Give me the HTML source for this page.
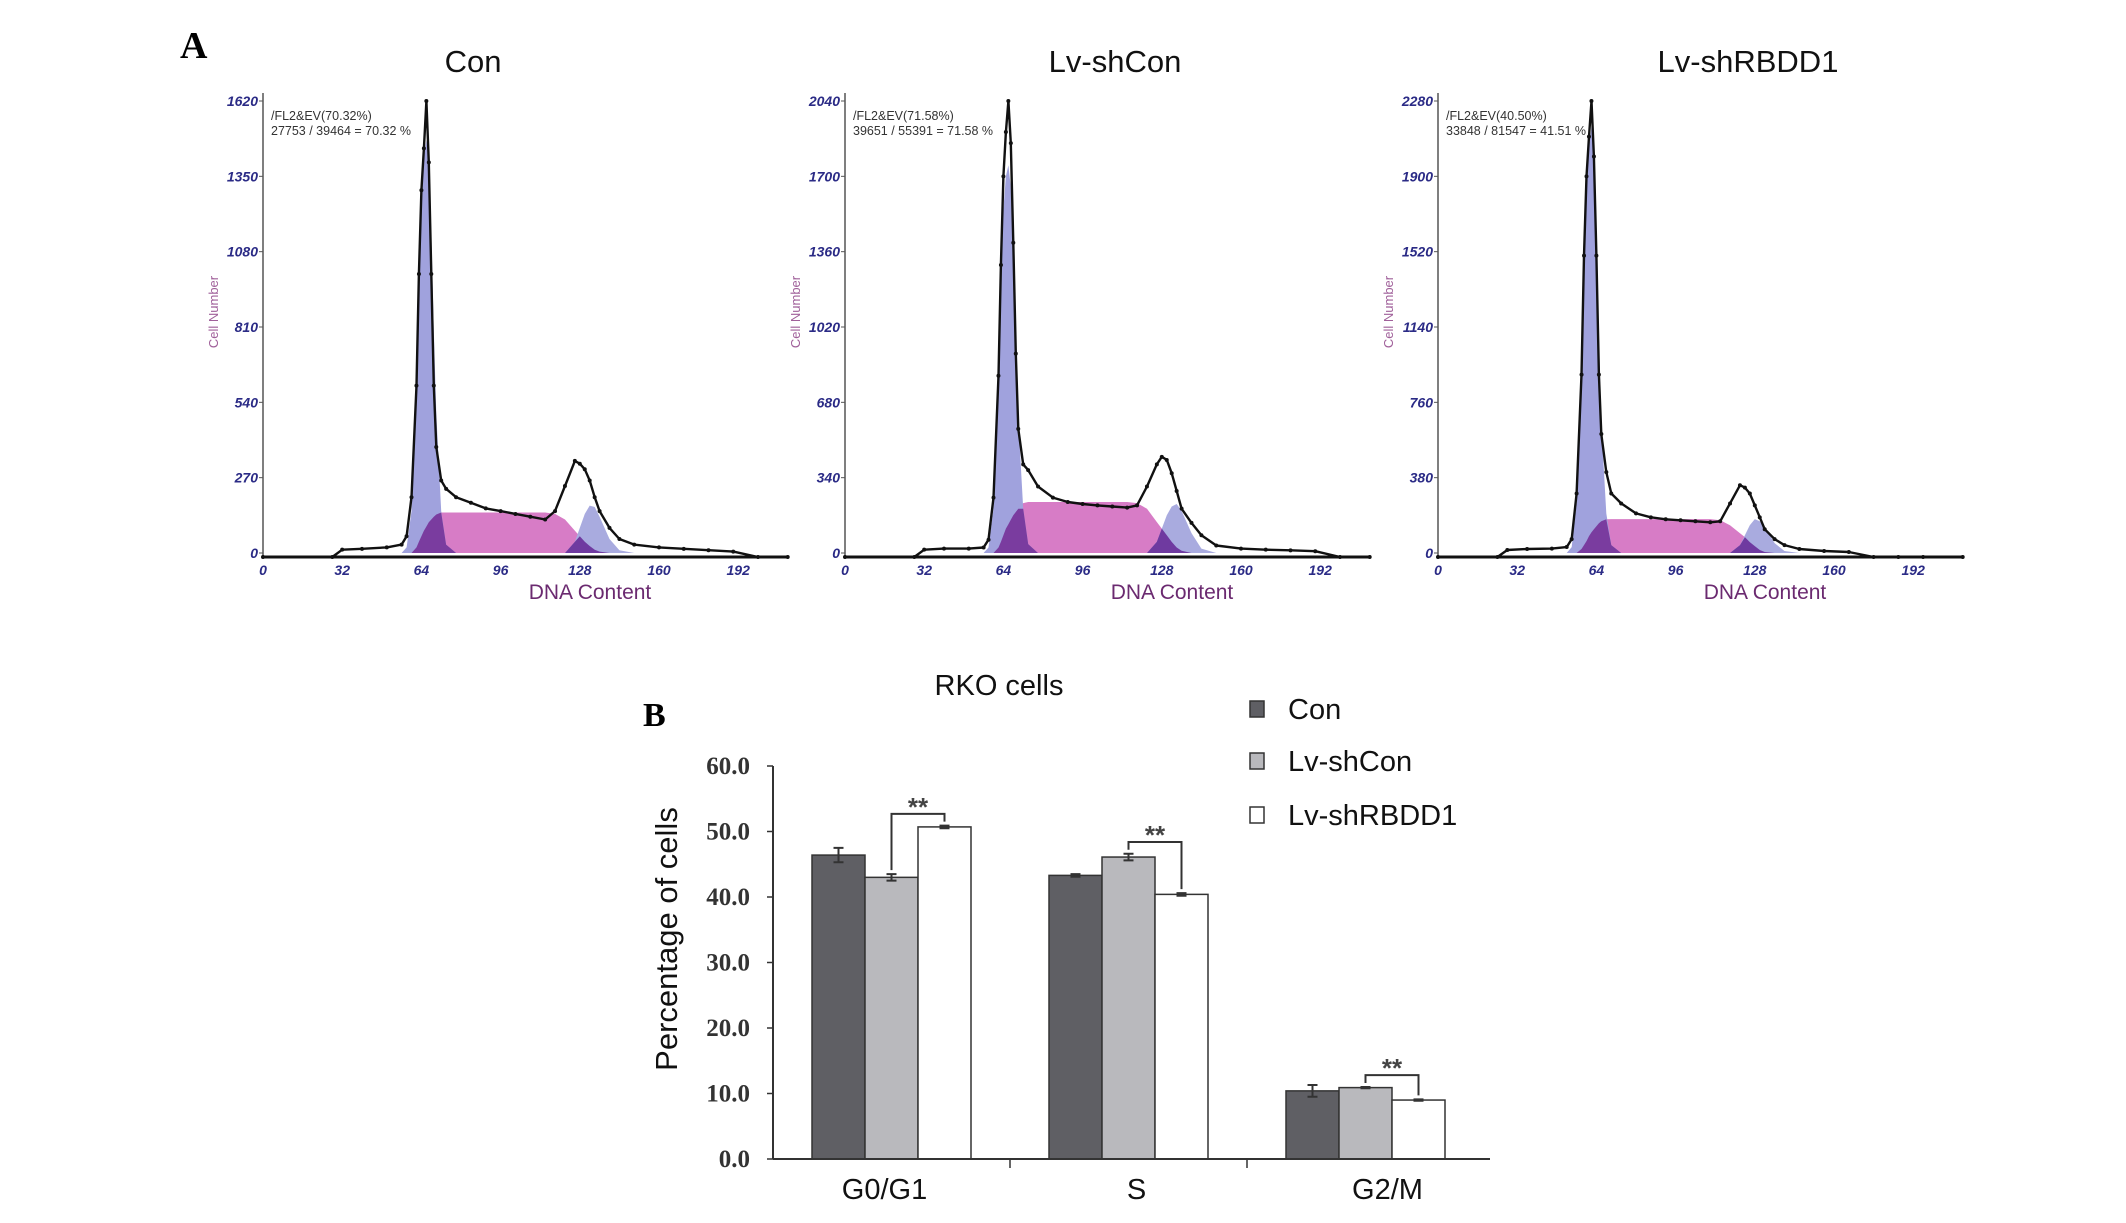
<!DOCTYPE html>
<html><head><meta charset="utf-8"><style>
html,body{margin:0;padding:0;background:#fff;}
svg{display:block;}
</style></head><body>
<svg id="fig" width="2126" height="1223" viewBox="0 0 2126 1223" xmlns="http://www.w3.org/2000/svg" font-family="Liberation Sans, sans-serif">
<text x="180" y="58" style="font-family:'Liberation Serif',serif;font-weight:bold;font-size:38px" fill="#000">A</text>
<text x="643" y="726" style="font-family:'Liberation Serif',serif;font-weight:bold;font-size:34px" fill="#000">B</text>
<g id="hists"></g>
<g id="bars"></g>
</svg>
<script>
// ---------- Panel A data ----------
const histTitles = ["Con", "Lv-shCon", "Lv-shRBDD1"];
const histMax = [1620, 2040, 2280];
const histNote1 = ["/FL2&EV(70.32%)", "/FL2&EV(71.58%)", "/FL2&EV(40.50%)"];
const histNote2 = ["27753 / 39464 = 70.32 %", "39651 / 55391 = 71.58 %", "33848 / 81547 = 41.51 %"];
const xTicks = [0, 32, 64, 96, 128, 160, 192];
const ch1 = [0,28,32,40,50,56,58,60,62,63,64,65,66,67,68,69,70,72,74,78,84,90,96,102,108,114,118,122,126,128,130,132,134,136,140,144,150,160,170,180,190,200,212];
const ch3 = [0,24,28,36,46,52,54,56,58,59,60,61,62,63,64,65,66,68,70,74,80,86,92,98,104,110,114,118,122,124,126,128,130,132,136,140,146,156,166,176,186,196,212];
const total1 = [0,0,12,15,20,30,60,200,600,1000,1300,1450,1620,1400,1000,600,380,260,230,200,180,160,150,140,130,120,150,240,330,320,300,260,200,150,90,50,30,20,15,10,5,0,0];
const g1p1 = [0,0,0,0,0,0,20,150,600,950,1250,1420,1480,1400,1150,800,500,150,30,0,0,0,0,0,0,0,0,0,0,0,0,0,0,0,0,0,0,0,0,0,0,0,0];
const s1 = [0,0,0,0,0,0,0,0,20,40,60,80,95,110,120,130,138,145,145,145,145,145,145,145,145,145,140,120,80,60,40,25,12,5,0,0,0,0,0,0,0,0,0];
const g2p1 = [0,0,0,0,0,0,0,0,0,0,0,0,0,0,0,0,0,0,0,0,0,0,0,0,0,0,0,0,40,90,140,170,165,130,50,10,0,0,0,0,0,0,0];
const total2 = [0,0,15,20,20,25,60,250,800,1300,1700,1900,2040,1850,1400,900,560,400,374,300,250,230,221,215,210,205,215,300,400,434,420,360,280,200,136,80,34,20,15,12,8,0,0];
const g1p2 = [0,0,0,0,0,0,25,200,750,1200,1550,1700,1750,1650,1350,950,600,200,40,0,0,0,0,0,0,0,0,0,0,0,0,0,0,0,0,0,0,0,0,0,0,0,0];
const s2 = [0,0,0,0,0,0,0,0,25,50,80,110,130,150,170,185,200,225,230,230,230,230,230,230,230,230,225,200,140,110,80,50,25,10,0,0,0,0,0,0,0,0,0];
const g2p2 = [0,0,0,0,0,0,0,0,0,0,0,0,0,0,0,0,0,0,0,0,0,0,0,0,0,0,0,0,50,110,170,210,221,190,90,20,0,0,0,0,0,0,0];
const total3 = [0,0,15,20,22,30,70,300,900,1500,1900,2100,2280,2000,1500,900,600,408,300,250,200,180,170,165,160,155,160,250,342,330,300,240,180,120,70,40,20,10,5,0,0,0,0];
const g1p3 = [0,0,0,0,0,0,30,250,900,1400,1850,2050,2150,2000,1600,1100,650,200,40,0,0,0,0,0,0,0,0,0,0,0,0,0,0,0,0,0,0,0,0,0,0,0,0];
const s3 = [0,0,0,0,0,0,0,0,20,40,60,85,105,120,135,150,160,170,171,171,171,171,171,171,171,171,165,140,100,80,55,35,15,5,0,0,0,0,0,0,0,0,0];
const g2p3 = [0,0,0,0,0,0,0,0,0,0,0,0,0,0,0,0,0,0,0,0,0,0,0,0,0,0,0,0,40,90,140,171,160,130,50,10,0,0,0,0,0,0,0];

// ---------- Panel B data ----------
const categories = ["G0/G1", "S", "G2/M"];
const seriesNames = ["Con", "Lv-shCon", "Lv-shRBDD1"];
const conVals = [46.4, 43.3, 10.4];
const shConVals = [43.0, 46.1, 10.9];
const shRBDDVals = [50.7, 40.4, 9.0];
const conErr = [1.1, 0.2, 0.9];
const shConErr = [0.5, 0.5, 0.1];
const shRBDDErr = [0.2, 0.2, 0.1];
const yTickVals = [0, 10, 20, 30, 40, 50, 60];

const NS = "http://www.w3.org/2000/svg";
function mk(tag, attrs, parent, txt) {
  const e = document.createElementNS(NS, tag);
  for (const k in attrs) e.setAttribute(k, attrs[k]);
  if (txt !== undefined) e.textContent = txt;
  parent.appendChild(e);
  return e;
}

// ---------- Histograms ----------
const hroot = document.getElementById('hists');
const axisXs = [263, 845, 1438];
const titleXs = [473, 1115, 1748];
const chans = [ch1, ch1, ch3];
const totals = [total1, total2, total3];
const g1s = [g1p1, g1p2, g1p3];
const ss = [s1, s2, s3];
const g2s = [g2p1, g2p2, g2p3];
const Y0 = 553, YH = 452, PX32 = 79.2;

for (let p = 0; p < 3; p++) {
  const ax = axisXs[p], mx = histMax[p], ch = chans[p];
  const g = mk('g', {}, hroot);
  
  
  const sx = c => ax + c * PX32 / 32;
  const sy = v => Y0 - v / mx * YH;
  const t = mk('text', {x: titleXs[p], y: 72, 'text-anchor': 'middle', 'font-size': 31, fill: '#111'}, g, histTitles[p]);
  
  
  function area(arr, fill, name) {
    let d = 'M' + sx(ch[0]) + ',' + sy(0);
    for (let i = 0; i < ch.length; i++) d += ' L' + sx(ch[i]).toFixed(1) + ',' + sy(arr[i]).toFixed(1);
    d += ' L' + sx(ch[ch.length - 1]) + ',' + sy(0) + ' Z';
    const e = mk('path', {d: d, fill: fill, stroke: 'none'}, g);
    
    
  }
  const g1 = g1s[p], s = ss[p], g2 = g2s[p];
  area(s, '#d77cc6', 's-phase-area');
  area(g1, '#a0a2dd', 'g1-phase-area');
  area(g2, '#a9abdf', 'g2-phase-area');
  area(g1.map((v, i) => Math.min(v, s[i])), '#7a3c9f', 'g1-s-overlap');
  area(g2.map((v, i) => Math.min(v, s[i])), '#6f3aa0', 'g2-s-overlap');
  const ya = mk('line', {x1: ax, y1: Y0 - YH - 8, x2: ax, y2: Y0 + 4, stroke: '#555', 'stroke-width': 1.5}, g);
  
  
  for (let k = 0; k <= 6; k++) {
    const v = mx / 6 * k, y = sy(v);
    mk('line', {x1: ax - 4, y1: y, x2: ax, y2: y, stroke: '#555', 'stroke-width': 1}, g);
    const tl = mk('text', {x: ax - 5, y: y + 5, 'text-anchor': 'end', 'font-size': 14, 'font-style': 'italic', 'font-weight': 'bold', fill: '#2b2b86'}, g, String(Math.round(v)));
    
    
  }
  const xa = mk('line', {x1: ax, y1: Y0 + 4, x2: ax + 525, y2: Y0 + 4, stroke: '#111', 'stroke-width': 3}, g);
  
  
  xTicks.forEach(v => {
    const tl = mk('text', {x: sx(v), y: 575, 'text-anchor': 'middle', 'font-size': 14, 'font-style': 'italic', 'font-weight': 'bold', fill: '#2b2b86'}, g, String(v));
    
    
  });
  const tot = totals[p];
  let pts = ch.map((c, i) => sx(c).toFixed(1) + ',' + (sy(tot[i]) + (tot[i] === 0 ? 4 : 0)).toFixed(1)).join(' ');
  const pl = mk('polyline', {points: pts, fill: 'none', stroke: '#111', 'stroke-width': 2.4, 'stroke-linejoin': 'round'}, g);
  
  
  ch.forEach((c, i) => {
    const dot = mk('circle', {cx: sx(c), cy: sy(tot[i]) + (tot[i] === 0 ? 4 : 0), r: 2, fill: '#111'}, g);
    
    
  });
  const xt = mk('text', {x: ax + 327, y: 599, 'text-anchor': 'middle', 'font-size': 21, fill: '#6b2a70'}, g, 'DNA Content');
  
  
  const yt = mk('text', {x: 0, y: 0, transform: 'translate(' + (ax - 45) + ',312) rotate(-90)', 'text-anchor': 'middle', 'font-size': 13, fill: '#a0609a'}, g, 'Cell Number');
  
  
  const n1 = mk('text', {x: ax + 8, y: 120, 'font-size': 12.5, fill: '#333'}, g, histNote1[p]);
  
  
  const n2 = mk('text', {x: ax + 8, y: 135, 'font-size': 12.5, fill: '#333'}, g, histNote2[p]);
  
  
}

// ---------- Bar chart ----------
const broot = document.getElementById('bars');
const AX = 773, AY = 1159, PER10 = 65.5, GW = 237, BW = 53, BOFF = 39;
const yS = v => AY - v * PER10 / 10;
const series = [conVals, shConVals, shRBDDVals];
const errs = [conErr, shConErr, shRBDDErr];
const fills = ['#5f5f64', '#b9b9bd', '#ffffff'];
const barX = (g, i) => AX + g * GW + BOFF + i * BW;
const labelShift = [-7, 8, 22];

const bt = mk('text', {x: 999, y: 695, 'text-anchor': 'middle', 'font-size': 29, fill: '#111'}, broot, 'RKO cells');



yTickVals.forEach(v => {
  const y = yS(v);
  mk('line', {x1: AX - 6, y1: y, x2: AX, y2: y, stroke: '#333', 'stroke-width': 1.5}, broot);
  const tl = mk('text', {x: 750, y: y + 8, 'text-anchor': 'end', style: "font-family:'Liberation Serif',serif;font-weight:bold;font-size:25px", fill: '#333'}, broot, v.toFixed(1));
  
  
});
const yax = mk('line', {x1: AX, y1: yS(60), x2: AX, y2: AY, stroke: '#333', 'stroke-width': 2}, broot);


const ytt = mk('text', {x: 0, y: 0, transform: 'translate(677,939) rotate(-90)', 'text-anchor': 'middle', 'font-size': 31, fill: '#111'}, broot, 'Percentage of cells');



for (let g = 0; g < 3; g++) {
  for (let i = 0; i < 3; i++) {
    const v = series[i][g], x = barX(g, i);
    const r = mk('rect', {x: x, y: yS(v), width: BW, height: AY - yS(v), fill: fills[i], stroke: '#333', 'stroke-width': 1.5}, broot);
    
    
    const e = errs[i][g], cx = x + BW / 2;
    const eb = mk('path', {d: 'M' + cx + ',' + yS(v + e) + ' V' + yS(v - e) + ' M' + (cx - 5) + ',' + yS(v + e) + ' H' + (cx + 5) + ' M' + (cx - 5) + ',' + yS(v - e) + ' H' + (cx + 5), stroke: '#333', 'stroke-width': 2, fill: 'none'}, broot);
    
    
  }
  const cl = mk('text', {x: barX(g, 1) + BW / 2 + labelShift[g], y: 1199, 'text-anchor': 'middle', 'font-size': 29, fill: '#111'}, broot, categories[g]);
  
  
  const xl = barX(g, 1) + BW / 2, xr = barX(g, 2) + BW / 2;
  const topV = Math.max(shConVals[g] + shConErr[g], shRBDDVals[g] + shRBDDErr[g]) + 1.8;
  const yt = yS(topV);
  const br = mk('path', {d: 'M' + xl + ',' + (yS(shConVals[g] + shConErr[g]) - 4) + ' V' + yt + ' H' + xr + ' V' + (yS(shRBDDVals[g] + shRBDDErr[g]) - 4), stroke: '#333', 'stroke-width': 2, fill: 'none'}, broot);
  
  
  const st = mk('text', {x: (xl + xr) / 2, y: yt + 2, 'text-anchor': 'middle', 'font-size': 26, 'font-weight': 'bold', fill: '#444'}, broot, '**');
  
  
}
const xax = mk('line', {x1: AX, y1: AY, x2: 1490, y2: AY, stroke: '#333', 'stroke-width': 2}, broot);


[AX + GW, AX + 2 * GW].forEach(x => mk('line', {x1: x, y1: AY, x2: x, y2: AY + 9, stroke: '#333', 'stroke-width': 1.5}, broot));

const legY = [709, 761, 815];
for (let i = 0; i < 3; i++) {
  const sq = mk('rect', {x: 1250, y: legY[i] - 8, width: 14, height: 16, fill: fills[i], stroke: '#333', 'stroke-width': 1.5}, broot);
  
  
  const lt = mk('text', {x: 1288, y: legY[i] + 10, 'font-size': 29, fill: '#111'}, broot, seriesNames[i]);
  
  
}
</script>
</body></html>
